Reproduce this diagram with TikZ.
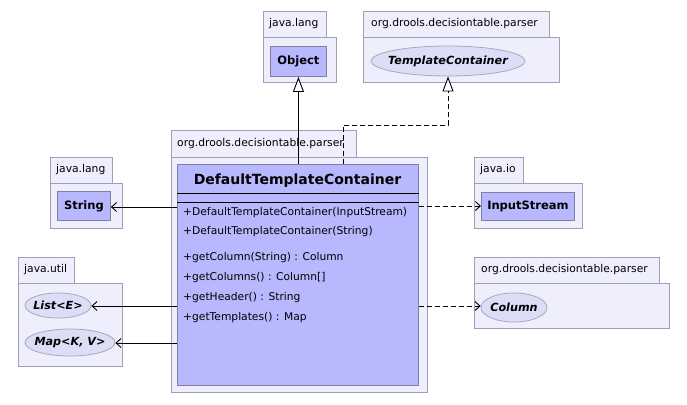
\documentclass[tikz,border=0pt]{standalone}
\usepackage{fontspec}
\setmainfont{DejaVu Sans}
\usetikzlibrary{arrows.meta,calc,shapes.geometric}
\definecolor{pkgfill}{RGB}{238,238,252}
\definecolor{pkgline}{RGB}{160,160,180}
\definecolor{clsfill}{RGB}{184,184,255}
\definecolor{clsline}{RGB}{128,128,160}
\definecolor{ifill}{RGB}{221,221,248}
\definecolor{iline}{RGB}{168,168,184}
\tikzset{
  pkgbox/.style={draw=pkgline, fill=pkgfill, line width=0.8pt, inner sep=0pt, anchor=north west},
  pkglabel/.style={font=\fontsize{10.75}{12}\selectfont, inner sep=0pt, anchor=west},
  clsbox/.style={draw=clsline, fill=clsfill, line width=0.9pt, inner sep=0pt, anchor=north west},
  clslabel/.style={font=\fontsize{11.5}{13}\selectfont\bfseries, inner sep=0pt},
  ifbox/.style={ellipse, draw=iline, fill=ifill, line width=0.8pt, inner sep=0pt},
  iflabel/.style={font=\fontsize{11.2}{13}\selectfont\bfseries\itshape, inner sep=0pt},
  oplabel/.style={font=\fontsize{10.7}{12}\selectfont, inner sep=0pt, anchor=west},
  inh/.style={line width=0.9pt, -{Triangle[open, length=15pt, width=11pt, fill=white]}},
  real/.style={line width=0.9pt, dash pattern=on 5pt off 3pt, -{Triangle[open, length=15pt, width=11pt, fill=white]}},
  assoc/.style={line width=0.9pt, -{Straight Barb[length=5pt, width=9pt, line width=0.9pt]}},
  dep/.style={line width=0.9pt, dash pattern=on 5pt off 3pt, -{Straight Barb[length=5pt, width=9pt, line width=0.9pt]}},
}
\begin{document}
\begin{tikzpicture}[x=1pt, y=-1pt]
\useasboundingbox (0,0) rectangle (687,404);
\fill[white] (0,0) rectangle (687,404);

% package java.lang (top)
\node[pkgbox, minimum width=63pt, minimum height=26pt] (p1tab) at (263,11) {};
\node[pkgbox, minimum width=73pt, minimum height=45pt] (p1body) at (263,37) {};
\node[pkglabel] (p1lab) at (269,24) {java.lang};
\node[clsbox, minimum width=56pt, minimum height=30pt] (obj) at (270,46) {};
\node[clslabel] (objlab) at (obj.center) {Object};

% package org.drools.decisiontable.parser (top right)
\node[pkgbox, minimum width=186pt, minimum height=26pt] (p2tab) at (363,11) {};
\node[pkgbox, minimum width=196pt, minimum height=45pt] (p2body) at (363,37) {};
\node[pkglabel] (p2lab) at (371,24) {org.drools.decisiontable.parser};
\node[ifbox, minimum width=154pt, minimum height=30pt] (tc) at (448,61) {};
\node[iflabel] (tclab) at (tc.center) {TemplateContainer};

% main package
\node[pkgbox, minimum width=185pt, minimum height=27pt] (p3tab) at (171,130) {};
\node[pkgbox, minimum width=256pt, minimum height=235pt] (p3body) at (171,157) {};
\node[pkglabel] (p3lab) at (177,143.5) {org.drools.decisiontable.parser};
\node[clsbox, minimum width=241pt, minimum height=221pt] (cls) at (177,164) {};
\node[font=\fontsize{14}{16}\selectfont\bfseries, inner sep=0pt] (clsname) at (297.5,181) {DefaultTemplateContainer};
\draw[line width=0.9pt] (cls.west |- 0,193) coordinate (s1) -- (cls.east |- 0,193) coordinate (s2);
\draw[line width=0.9pt] (cls.west |- 0,202) coordinate (s3) -- (cls.east |- 0,202) coordinate (s4);
\node[oplabel] (op1) at (183,213) {+DefaultTemplateContainer(InputStream)};
\node[oplabel] (op2) at (183,231.5) {+DefaultTemplateContainer(String)};
\node[oplabel] (op3) at (183,258) {+getColumn(String) : Column};
\node[oplabel] (op4) at (183,278) {+getColumns() : Column[]};
\node[oplabel] (op5) at (183,298) {+getHeader() : String};
\node[oplabel] (op6) at (183,318) {+getTemplates() : Map};

% package java.lang (left)
\node[pkgbox, minimum width=62pt, minimum height=26pt] (p4tab) at (50,157) {};
\node[pkgbox, minimum width=72pt, minimum height=45pt] (p4body) at (50,183) {};
\node[pkglabel] (p4lab) at (56,170) {java.lang};
\node[clsbox, minimum width=53pt, minimum height=29pt] (str) at (57,191) {};
\node[clslabel] (strlab) at (str.center) {String};

% package java.util
\node[pkgbox, minimum width=56pt, minimum height=26pt] (p5tab) at (18,257) {};
\node[pkgbox, minimum width=104pt, minimum height=83pt] (p5body) at (18,283) {};
\node[pkglabel] (p5lab) at (24,270) {java.util};
\node[ifbox, minimum width=66pt, minimum height=25pt] (lst) at (58,305.5) {};
\node[iflabel] (lstlab) at (lst.center) {List<E>};
\node[ifbox, minimum width=90pt, minimum height=27pt] (map) at (70,342.5) {};
\node[iflabel] (maplab) at (map.center) {Map<K, V>};

% package java.io
\node[pkgbox, minimum width=49pt, minimum height=26pt] (p6tab) at (474,157) {};
\node[pkgbox, minimum width=108pt, minimum height=45pt] (p6body) at (474,183) {};
\node[pkglabel] (p6lab) at (480,170) {java.io};
\node[clsbox, minimum width=93pt, minimum height=28pt] (is) at (481,192) {};
\node[clslabel] (islab) at (is.center) {InputStream};

% package org.drools.decisiontable.parser (right)
\node[pkgbox, minimum width=185pt, minimum height=26pt] (p7tab) at (474,257) {};
\node[pkgbox, minimum width=195pt, minimum height=45pt] (p7body) at (474,283) {};
\node[pkglabel] (p7lab) at (481,270) {org.drools.decisiontable.parser};
\node[ifbox, minimum width=66pt, minimum height=29pt] (col) at (514,307.5) {};
\node[iflabel] (collab) at (col.center) {Column};

% connectors
\draw[inh] (cls.north -| obj.south) -- (obj.south);
\coordinate (r0) at (343,164);
\coordinate (r1) at (448,125);
\draw[real] (r0) |- (r1) -- (tc.south);
\draw[assoc] (cls.west |- 0,207) -- (str.east |- 0,207);
\draw[assoc] (cls.west |- 0,306) -- (lst.east |- 0,306);
\draw[assoc] (cls.west |- 0,343) -- (map.east |- 0,343);
\draw[dep] (cls.east |- 0,206) -- (is.west |- 0,206);
\draw[dep] (cls.east |- 0,306) -- (col.west |- 0,306);
\end{tikzpicture}
\end{document}
